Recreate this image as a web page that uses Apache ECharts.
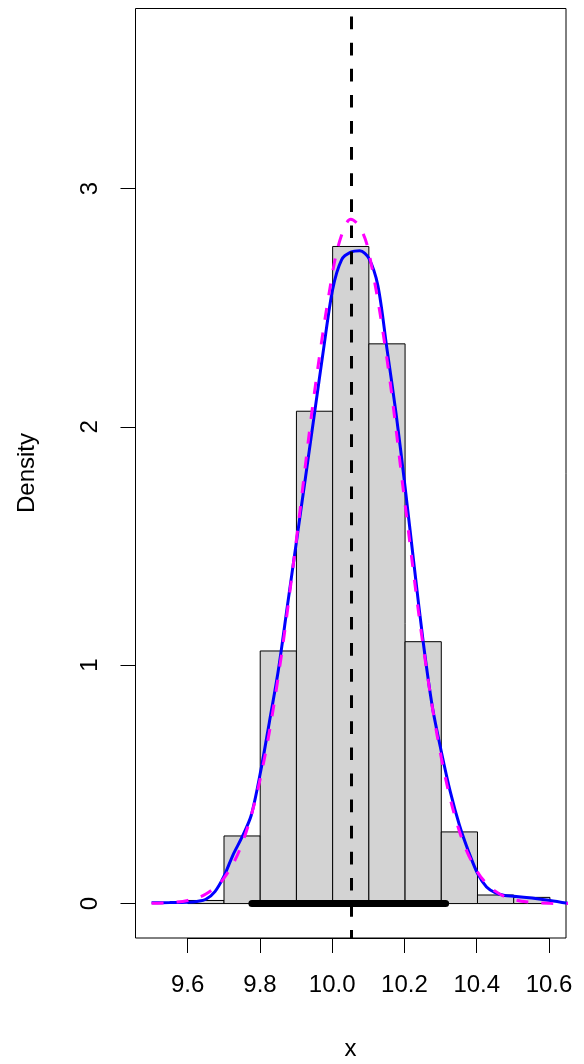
<!DOCTYPE html>
<html>
<head>
<meta charset="utf-8">
<script src="https://cdn.jsdelivr.net/npm/echarts@6/dist/echarts.min.js"></script>
<style>
  html, body { margin: 0; padding: 0; background: #fff; }
  #chart { width: 584px; height: 1064px; }
</style>
</head>
<body>
<div id="chart"></div>
<script>
// ---- data ----
const binEdges   = [9.6, 9.7, 9.8, 9.9, 10.0, 10.1, 10.2, 10.3, 10.4, 10.5, 10.6];
const binDensity = [0.013, 0.284, 1.061, 2.068, 2.760, 2.351, 1.100, 0.301, 0.036, 0.026];

const kdeX = [9.50, 9.55, 9.60, 9.625, 9.65, 9.675, 9.70, 9.725, 9.75, 9.775, 9.80, 9.825, 9.85, 9.875,
              9.90, 9.925, 9.95, 9.975, 10.00, 10.025, 10.05, 10.075, 10.10, 10.125, 10.15, 10.175,
              10.20, 10.225, 10.25, 10.275, 10.30, 10.325, 10.35, 10.375, 10.40, 10.425, 10.45, 10.475,
              10.50, 10.55, 10.60, 10.65];
const kdeY = [0.003, 0.004, 0.006, 0.009, 0.018, 0.050, 0.115, 0.205, 0.280, 0.370, 0.546, 0.760, 0.980, 1.250,
              1.520, 1.790, 2.060, 2.330, 2.580, 2.705, 2.736, 2.742, 2.710, 2.595, 2.330, 2.060,
              1.750, 1.420, 1.100, 0.830, 0.639, 0.469, 0.330, 0.220, 0.127, 0.070, 0.045, 0.034,
              0.031, 0.023, 0.013, 0.001];

const normX = [9.50, 9.55, 9.60, 9.65, 9.70, 9.75, 9.80, 9.85, 9.90, 9.95, 10.00, 10.025, 10.05, 10.075,
               10.10, 10.15, 10.20, 10.25, 10.30, 10.35, 10.40, 10.45, 10.50, 10.55, 10.60, 10.65];
const normY = [0.001, 0.004, 0.013, 0.040, 0.107, 0.252, 0.524, 0.955, 1.529, 2.149, 2.652, 2.809, 2.874, 2.842,
               2.736, 2.287, 1.678, 1.082, 0.613, 0.304, 0.133, 0.051, 0.017, 0.005, 0.001, 0.0003];

const centerLineX = 10.052;
const rangeSegment = [9.777, 10.312];

const xTickMin = 9.6, xTickMax = 10.6, xTickStep = 0.2;
const yTickMin = 0, yTickMax = 3, yTickStep = 1;

const xLimits = [9.4556, 10.6444];
const yLimits = [-0.1446, 3.7596];

// ---- build ----
const FONT = "'Liberation Sans', Arial, Helvetica, sans-serif";
const histData = binDensity.map((d, i) => [binEdges[i], binEdges[i + 1], d]);
const kdeData = kdeX.map((x, i) => [x, kdeY[i]]);
const normData = normX.map((x, i) => [x, normY[i]]);

const chart = echarts.init(document.getElementById('chart'), null, { renderer: 'canvas' });

const option = {
  animation: false,
  backgroundColor: '#ffffff',
  grid: [
    { left: 135.5, top: 8.5, width: 430.5, height: 929.5, show: true, borderColor: '#000', borderWidth: 1, backgroundColor: 'transparent' },
    { left: 187.7, top: 8.5, width: 361.3, height: 929.5, show: false },
    { left: 135.5, top: 188.5, width: 430.5, height: 715, show: false }
  ],
  xAxis: [
    { type: 'value', gridIndex: 0, min: xLimits[0], max: xLimits[1], show: false },
    { type: 'value', gridIndex: 1, min: xTickMin, max: xTickMax, interval: xTickStep, position: 'bottom',
      axisLine: { show: true, onZero: false, lineStyle: { color: '#000', width: 1 } },
      axisTick: { show: true, inside: false, length: 15, lineStyle: { color: '#000', width: 1 } },
      axisLabel: { show: true, margin: 35, color: '#000', fontSize: 24, fontFamily: FONT,
                   showMinLabel: true, showMaxLabel: true, formatter: v => v.toFixed(1) },
      splitLine: { show: false } },
    { type: 'value', gridIndex: 2, min: 0, max: 1, show: false }
  ],
  yAxis: [
    { type: 'value', gridIndex: 0, min: yLimits[0], max: yLimits[1], show: false },
    { type: 'value', gridIndex: 1, min: 0, max: 1, show: false },
    { type: 'value', gridIndex: 2, min: yTickMin, max: yTickMax, interval: yTickStep, position: 'left',
      axisLine: { show: true, onZero: false, lineStyle: { color: '#000', width: 1 } },
      axisTick: { show: true, inside: false, length: 15, lineStyle: { color: '#000', width: 1 } },
      axisLabel: { show: true, rotate: 90, margin: 33, color: '#000', fontSize: 24, fontFamily: FONT,
                   showMinLabel: true, showMaxLabel: true },
      splitLine: { show: false } }
  ],
  graphic: [
    { type: 'text', x: 350.5, y: 1049, style: { text: 'x', font: '24px ' + FONT, fill: '#000', align: 'center', verticalAlign: 'middle' } },
    { type: 'text', x: 27, y: 473, rotation: Math.PI / 2, style: { text: 'Density', font: '24px ' + FONT, fill: '#000', align: 'center', verticalAlign: 'middle' } }
  ],
  series: [
    {
      type: 'custom', xAxisIndex: 0, yAxisIndex: 0, data: histData, z: 1,
      encode: { x: [0, 1], y: 2 },
      renderItem: function (params, api) {
        const p0 = api.coord([api.value(0), api.value(2)]);
        const p1 = api.coord([api.value(1), 0]);
        return { type: 'rect', shape: { x: p0[0], y: p0[1], width: p1[0] - p0[0], height: p1[1] - p0[1] },
                 style: { fill: '#d3d3d3', stroke: '#000', lineWidth: 1 } };
      }
    },
    {
      type: 'line', xAxisIndex: 0, yAxisIndex: 0, data: kdeData, showSymbol: false, symbol: 'none', smooth: 0.3, z: 3,
      lineStyle: { color: '#0000ff', width: 3 }, clip: true
    },
    {
      type: 'line', xAxisIndex: 0, yAxisIndex: 0, data: normData, showSymbol: false, symbol: 'none', smooth: 0.35, z: 4,
      lineStyle: { color: '#ff00ff', width: 3, type: [12, 13] }, clip: true
    },
    {
      type: 'line', xAxisIndex: 0, yAxisIndex: 0, data: [[centerLineX, yLimits[1]], [centerLineX, yLimits[0]]], showSymbol: false, symbol: 'none', z: 5,
      lineStyle: { color: '#000', width: 3, type: [12.7, 13.4], dashOffset: 18 }, clip: true
    },
    {
      type: 'line', xAxisIndex: 0, yAxisIndex: 0, data: [[rangeSegment[0], 0], [rangeSegment[1], 0]], showSymbol: false, symbol: 'none', z: 6,
      lineStyle: { color: '#000', width: 7, cap: 'round' }, clip: true
    }
  ]
};
chart.setOption(option);
</script>
</body>
</html>
